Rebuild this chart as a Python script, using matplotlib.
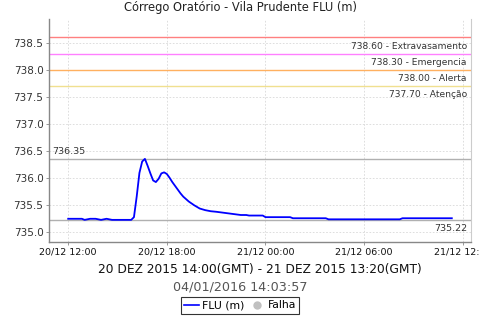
import matplotlib
matplotlib.use("Agg")
import matplotlib.pyplot as plt
import matplotlib.dates as mdates
from matplotlib.lines import Line2D
import pandas as pd

# ---- data ----
times = [
    "2015-12-20 12:00", "2015-12-20 12:50", "2015-12-20 13:00", "2015-12-20 13:20",
    "2015-12-20 13:40", "2015-12-20 14:00", "2015-12-20 14:20", "2015-12-20 14:40",
    "2015-12-20 15:00", "2015-12-20 15:20", "2015-12-20 15:40", "2015-12-20 15:50",
    "2015-12-20 16:00", "2015-12-20 16:10", "2015-12-20 16:20", "2015-12-20 16:30",
    "2015-12-20 16:40", "2015-12-20 16:50", "2015-12-20 17:00", "2015-12-20 17:10",
    "2015-12-20 17:20", "2015-12-20 17:30", "2015-12-20 17:40", "2015-12-20 17:50",
    "2015-12-20 18:00", "2015-12-20 18:10", "2015-12-20 18:20", "2015-12-20 18:30",
    "2015-12-20 18:40", "2015-12-20 18:50", "2015-12-20 19:00", "2015-12-20 19:20",
    "2015-12-20 19:40", "2015-12-20 20:00", "2015-12-20 20:20", "2015-12-20 20:40",
    "2015-12-20 21:00", "2015-12-20 21:30", "2015-12-20 22:00", "2015-12-20 22:30",
    "2015-12-20 22:50", "2015-12-20 23:00", "2015-12-20 23:50", "2015-12-21 00:00",
    "2015-12-21 01:30", "2015-12-21 01:40", "2015-12-21 03:40", "2015-12-21 03:50",
    "2015-12-21 08:10", "2015-12-21 08:20", "2015-12-21 11:20",
]
levels = [
    735.24, 735.24, 735.22, 735.24,
    735.24, 735.22, 735.24, 735.22,
    735.22, 735.22, 735.22, 735.22,
    735.27, 735.65, 736.09, 736.30,
    736.35, 736.22, 736.08, 735.95,
    735.92, 735.98, 736.08, 736.10,
    736.07, 736.00, 735.92, 735.85,
    735.78, 735.71, 735.65, 735.56,
    735.49, 735.43, 735.40, 735.38,
    735.37, 735.35, 735.33, 735.31,
    735.31, 735.30, 735.30, 735.27,
    735.27, 735.25, 735.25, 735.23,
    735.23, 735.25, 735.25,
]

thresholds = [738.60, 738.30, 738.00, 737.70]
threshold_names = ["Extravasamento", "Emergencia", "Alerta", "Atenção"]
threshold_colors = ["#ff8080", "#ff80ff", "#ffb060", "#f0e090"]

max_level = 736.35
min_level = 735.22

yticks = [735.0, 735.5, 736.0, 736.5, 737.0, 737.5, 738.0, 738.5]
xtick_times = ["2015-12-20 12:00", "2015-12-20 18:00", "2015-12-21 00:00",
               "2015-12-21 06:00", "2015-12-21 12:00"]
xtick_labels = ["20/12 12:00", "20/12 18:00", "21/12 00:00", "21/12 06:00", "21/12 12:00"]

title = "Córrego Oratório - Vila Prudente FLU (m)"
period = "20 DEZ 2015 14:00(GMT) - 21 DEZ 2015 13:20(GMT)"
stamp = "04/01/2016 14:03:57"

# ---- plot ----
t = pd.to_datetime(times)
fig = plt.figure(figsize=(4.8, 3.2), dpi=100)
ax = fig.add_axes([49/480, 1-242/320, 422/480, 223/320])

ax.set_xlim(pd.Timestamp("2015-12-20 10:50"), pd.Timestamp("2015-12-21 12:30"))
ax.set_ylim(734.81, 738.94)

ax.set_yticks(yticks)
ax.set_yticklabels([f"{v:.1f}" for v in yticks], fontsize=7.5, color="#333333")
ax.set_xticks(pd.to_datetime(xtick_times))
ax.set_xticklabels(xtick_labels, fontsize=6.8, color="#111111")
ax.tick_params(axis="both", length=2, width=0.6, color="#888888", pad=2)

ax.grid(True, linestyle=(0, (2, 2)), color="#d8d8d8", linewidth=0.6)
ax.set_axisbelow(True)
ax.spines["top"].set_visible(False)
ax.spines["left"].set_color("#888888")
ax.spines["bottom"].set_color("#888888")
ax.spines["right"].set_color("#cccccc")
ax.spines["left"].set_linewidth(1.0)
ax.spines["bottom"].set_linewidth(1.0)
ax.spines["right"].set_linewidth(0.8)

for v, name, c in zip(thresholds, threshold_names, threshold_colors):
    ax.axhline(v, color=c, linewidth=1.0, zorder=2)
    ax.annotate(f"{v:.2f} - {name}", xy=(1, v), xycoords=("axes fraction", "data"),
                xytext=(-3, -3), textcoords="offset points", ha="right", va="top",
                fontsize=6.6, color="#333333")

ax.axhline(max_level, color="#b0b0b0", linewidth=1.0, zorder=2)
ax.axhline(min_level, color="#b0b0b0", linewidth=1.0, zorder=2)
ax.annotate(f"{max_level:.2f}", xy=(0, max_level), xycoords=("axes fraction", "data"),
            xytext=(2, 2), textcoords="offset points", ha="left", va="bottom",
            fontsize=6.8, color="#333333")
ax.annotate(f"{min_level:.2f}", xy=(1, min_level), xycoords=("axes fraction", "data"),
            xytext=(-3, -3), textcoords="offset points", ha="right", va="top",
            fontsize=6.8, color="#333333")

ax.plot(t, levels, color="#0000ff", linewidth=1.3, zorder=3)

fig.text(0.5, 1-8/320, title, ha="center", va="center", fontsize=8.3, color="#222222")
fig.text(260/480, 1-269/320, period, ha="center", va="center", fontsize=8.8, color="#111111")
fig.text(0.5, 1-287/320, stamp, ha="center", va="center", fontsize=9.2, color="#555555")

handles = [Line2D([], [], color="#0000ff", linewidth=1.2),
           Line2D([], [], color="#c0c0c0", marker="o", linestyle="none", markersize=5)]
leg = fig.legend(handles, ["FLU (m)", "Falha"], loc="center", bbox_to_anchor=(0.5, 1-305.5/320),
                 ncol=2, fontsize=7.8, frameon=True, fancybox=False, handlelength=1.4,
                 handletextpad=0.3, columnspacing=0.4, borderpad=0.3, borderaxespad=0)
leg.get_frame().set_edgecolor("black")
leg.get_frame().set_linewidth(0.8)

fig.savefig("out.png", dpi=100)
